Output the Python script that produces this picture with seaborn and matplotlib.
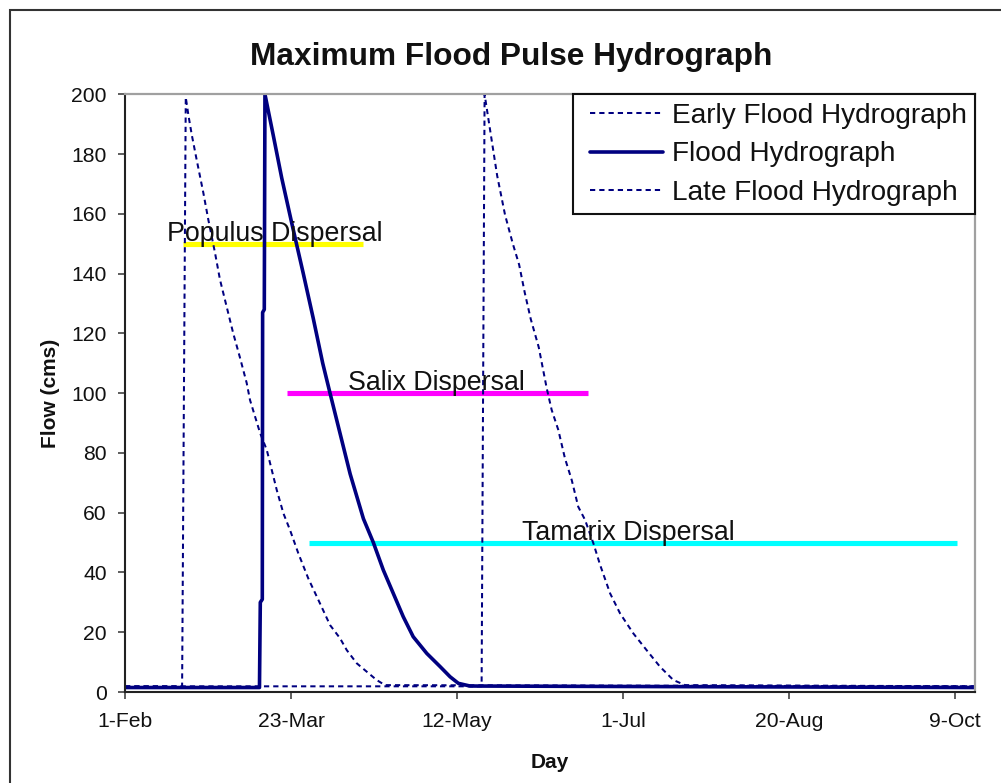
import numpy as np
import pandas as pd
import matplotlib
matplotlib.use("Agg")
import matplotlib.pyplot as plt
import seaborn as sns
from matplotlib.patches import Rectangle
from matplotlib.lines import Line2D
from matplotlib.legend_handler import HandlerLine2D

# ---------------- data (day of year, flow in cms) ----------------
early_day = [32, 49.2, 50.3, 51.1, 52.1, 53.6, 55.6, 57.1, 59.1, 60.6, 62.6, 64.6, 66.6,
             68.65, 69.65, 72.7, 74.7, 77.7, 79.7, 81.7, 84.2, 87.2, 90.7, 93.75, 96.75,
             98.8, 101.8, 104.8, 107.8, 110.3, 288]
early_flow = [1.9, 1.9, 199, 193, 186.5, 178, 167, 158, 147, 138, 129, 120, 112,
              103.4, 97.7, 86.6, 81, 67.6, 59.8, 54.2, 46.4, 38, 29.7, 22.4, 18,
              14, 9.6, 6.8, 4, 2.3, 1.9]

flood_day = [32, 72.5, 72.75, 73.35, 73.45, 73.95, 74.15, 76.7, 79.2, 82.2, 85.7, 88.7,
             91.55, 93.75, 99.8, 103.8, 106.8, 109.8, 112.8, 115.8, 118.8, 122.9, 126.9,
             129.9, 132.4, 135.9, 288]
flood_flow = [1.5, 1.5, 30, 31, 127, 128, 200, 186, 172, 157, 140, 125,
              110, 100, 73, 58, 50, 40.8, 33, 25.2, 18.5, 12.9, 8.5,
              5.1, 2.9, 2.0, 1.5]

late_day = [32, 139.4, 140.3, 142.8, 144.1, 146.45, 148.8, 150.7, 152.4, 154.2, 156.6,
            159.0, 160.5, 162.5, 164.5, 166.55, 168.5, 170.55, 173.05, 175.1, 178.1,
            181.1, 185.1, 189.1, 193.1, 197.15, 200.7, 288]
late_flow = [1.9, 1.9, 200, 182, 172.7, 159.7, 150, 143, 133.6, 124.8, 115.4,
             101.7, 94.4, 87.7, 78.2, 70.9, 62, 57.6, 49.8, 42.5, 33,
             26.3, 19.6, 14, 8.5, 4, 2.3, 1.9]

dispersal_names = ["Populus Dispersal", "Salix Dispersal", "Tamarix Dispersal"]
dispersal_start = [49.5, 80.7, 87.5]
dispersal_end = [103.8, 171.4, 282.7]
dispersal_flow = [150, 100, 50]
dispersal_label_day = [77.2, 125.8, 183.6]
dispersal_colors = ["#FFFF00", "#FF00FF", "#00FFFF"]

tick_days = [32, 82, 132, 182, 232, 282]
tick_labels = ["1-Feb", "23-Mar", "12-May", "1-Jul", "20-Aug", "9-Oct"]
y_ticks = list(range(0, 201, 20))

legend_labels = ["Early Flood Hydrograph", "Flood Hydrograph", "Late Flood Hydrograph"]

# ---------------- style ----------------
sns.set_theme(style="white")
plt.rcParams['font.family'] = ['Liberation Sans', 'DejaVu Sans']

W, H = 1001, 783
fig = plt.figure(figsize=(W / 100, H / 100), dpi=100)
fig.patch.set_facecolor("white")
ax = fig.add_axes([125 / W, 1 - 692 / H, 850 / W, (692 - 94.3) / H])

navy = "#000080"

# dispersal bars
for name, s, e, f, c in zip(dispersal_names, dispersal_start, dispersal_end,
                            dispersal_flow, dispersal_colors):
    d = pd.DataFrame({"day": [s, e], "flow": [f, f]})
    sns.lineplot(data=d, x="day", y="flow", color=c, linewidth=3.7, ax=ax,
                 estimator=None, sort=False, legend=False, solid_capstyle="butt")

df_early = pd.DataFrame({"day": early_day, "flow": early_flow})
df_flood = pd.DataFrame({"day": flood_day, "flow": flood_flow})
df_late = pd.DataFrame({"day": late_day, "flow": late_flow})

dash = (0, (2.6, 2.0))
sns.lineplot(data=df_early, x="day", y="flow", color=navy, linewidth=1.45,
             linestyle=dash, ax=ax, estimator=None, sort=False, legend=False)
sns.lineplot(data=df_late, x="day", y="flow", color=navy, linewidth=1.45,
             linestyle=dash, ax=ax, estimator=None, sort=False, legend=False)
sns.lineplot(data=df_flood, x="day", y="flow", color=navy, linewidth=2.6,
             ax=ax, estimator=None, sort=False, legend=False)

for name, d, f in zip(dispersal_names, dispersal_label_day, dispersal_flow):
    ax.text(d, f + 1.0, name, ha="center", va="baseline", fontsize=19.3,
            color="#111111", zorder=10)

ax.set_xlim(32, 288)
ax.set_ylim(0, 200)
ax.set_xticks(tick_days)
ax.set_xticklabels(tick_labels)
ax.set_yticks(y_ticks)
ax.tick_params(axis="both", direction="out", length=5, width=1.1, color="#333333",
               labelsize=15.2, labelcolor="#111111", bottom=True, left=True)
ax.tick_params(axis="x", pad=9.5)
ax.tick_params(axis="y", pad=8)

for side in ["left", "bottom"]:
    ax.spines[side].set_color("#222222")
    ax.spines[side].set_linewidth(1.5)
for side in ["top", "right"]:
    ax.spines[side].set_color("#a0a0a0")
    ax.spines[side].set_linewidth(1.6)

ax.set_xlabel("Day", fontsize=15, fontweight="bold", color="#111111")
ax.set_ylabel("Flow (cms)", fontsize=15, fontweight="bold", color="#111111")
ax.xaxis.set_label_coords(0.5, (692 - 753) / 597.7)
ax.yaxis.set_label_coords((60 - 125) / 850, 0.5)

fig.text(511 / W, 1 - 65 / H, "Maximum Flood Pulse Hydrograph", ha="center",
         va="baseline", fontsize=22.8, fontweight="bold", color="#111111")


class PaddedLineHandler(HandlerLine2D):
    """Line handler that leaves some blank space before the line sample."""
    def __init__(self, lead=0.32, **kw):
        super().__init__(**kw)
        self.lead = lead

    def create_artists(self, legend, orig_handle, xdescent, ydescent, width,
                       height, fontsize, trans):
        arts = super().create_artists(legend, orig_handle, xdescent, ydescent,
                                      width, height, fontsize, trans)
        off = self.lead * fontsize
        for a in arts:
            xd = np.asarray(a.get_xdata(), dtype=float)
            if len(xd) >= 2:
                a.set_xdata(np.linspace(xd[0] + off, xd[-1], len(xd)))
        return arts


handles = [
    Line2D([], [], color=navy, linewidth=1.45, linestyle=dash),
    Line2D([], [], color=navy, linewidth=2.6),
    Line2D([], [], color=navy, linewidth=1.45, linestyle=dash),
]
leg = ax.legend(handles, legend_labels, loc="upper right", bbox_to_anchor=(1, 1),
                borderaxespad=0, fontsize=20.2, frameon=True, fancybox=False,
                edgecolor="#111111", framealpha=1, handlelength=2.93,
                handletextpad=0.29, borderpad=0.3, labelspacing=0.45,
                handler_map={Line2D: PaddedLineHandler(lead=0.32)})
leg.get_frame().set_linewidth(1.5)
for t in leg.get_texts():
    t.set_color("#111111")

# outer chart border
fig.add_artist(Rectangle((9.5 / W, -0.5), 2.0, 0.5 + (1 - 9.5 / H),
                         transform=fig.transFigure, fill=False,
                         edgecolor="#333333", linewidth=1.5))

fig.savefig("out.png", dpi=100)
